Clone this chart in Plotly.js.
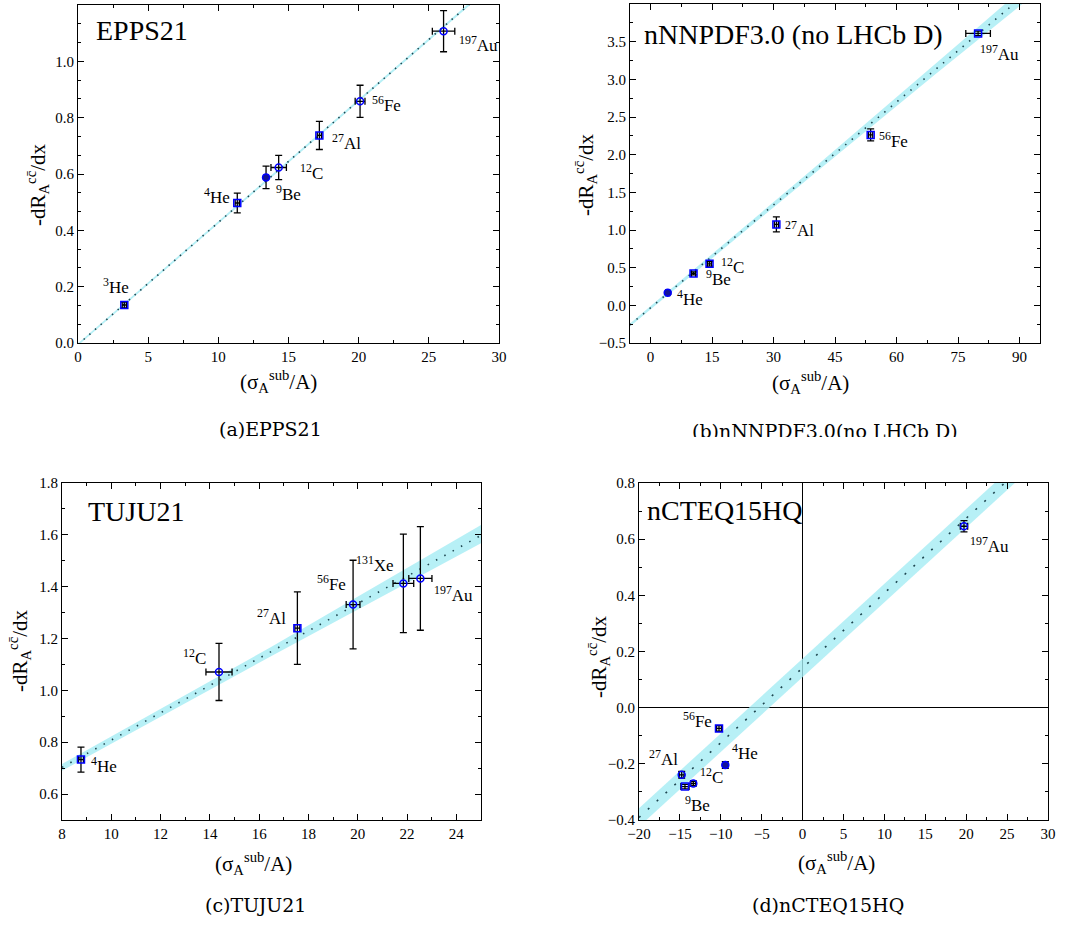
<!DOCTYPE html>
<html><head><meta charset="utf-8">
<script src="https://cdn.plot.ly/plotly-3.0.1.min.js"></script>
<style>html,body{margin:0;padding:0;background:#fff;}#chart{width:1076px;height:927px;}</style>
</head><body><div id="chart"></div>
<script>
// ---------------- DATA ----------------
// (a) EPPS21
const aMass = [3, 4, 9, 12, 27, 56, 197];
const aElem = ['He', 'He', 'Be', 'C', 'Al', 'Fe', 'Au'];
const aX    = [3.3, 11.35, 13.4, 14.3, 17.2, 20.1, 26.05];
const aY    = [0.135, 0.497, 0.588, 0.623, 0.737, 0.858, 1.107];
const aXerr = [0.15, 0.15, 0.1, 0.55, 0.15, 0.35, 0.8];
const aYerr = [0.010, 0.035, 0.040, 0.043, 0.050, 0.057, 0.073];
const aFitX = [0, 30];
const aFitY = [-0.005, 1.294];
const aBandLo = [-0.009, 1.289];
const aBandHi = [-0.001, 1.299];

// (b) nNNPDF3.0 (no LHCb D)
const bMass = [4, 9, 12, 27, 56, 197];
const bElem = ['He', 'Be', 'C', 'Al', 'Fe', 'Au'];
const bX    = [4.2, 10.5, 14.4, 30.7, 53.7, 79.9];
const bY    = [0.166, 0.423, 0.551, 1.074, 2.262, 3.61];
const bXerr = [0.5, 0.5, 0.5, 0.5, 0.5, 3.0];
const bYerr = [0.02, 0.02, 0.03, 0.10, 0.08, 0.03];
const bFitX = [-5, 95];
const bFitY = [-0.26, 4.29];
const bBandX  = [-5, 40, 70, 95];
const bBandLo = [-0.28, 1.75, 3.09, 4.19];
const bBandHi = [-0.24, 1.83, 3.23, 4.40];

// (c) TUJU21
const cMass = [4, 12, 27, 56, 131, 197];
const cElem = ['He', 'C', 'Al', 'Fe', 'Xe', 'Au'];
const cX    = [8.77, 14.37, 17.55, 19.81, 21.85, 22.54];
const cY    = [0.733, 1.071, 1.24, 1.331, 1.4125, 1.432];
const cXerr = [0.1, 0.53, 0.1, 0.28, 0.42, 0.47];
const cYerr = [0.048, 0.11, 0.14, 0.171, 0.19, 0.20];
const cFitX = [8, 25];
const cFitY = [0.703, 1.598];
const cBandX  = [8, 16.5, 25];
const cBandLo = [0.690, 1.133, 1.568];
const cBandHi = [0.716, 1.168, 1.638];

// (d) nCTEQ15HQ
const dMass = [4, 9, 12, 27, 56, 197];
const dElem = ['He', 'Be', 'C', 'Al', 'Fe', 'Au'];
const dX    = [-9.45, -14.38, -13.36, -14.78, -10.22, 19.73];
const dY    = [-0.204, -0.281, -0.270, -0.239, -0.074, 0.646];
const dXerr = [0.3, 0.5, 0.3, 0.3, 0.3, 0.45];
const dYerr = [0.012, 0.008, 0.008, 0.012, 0.010, 0.020];
const dFitX = [-20, 30];
const dFitY = [-0.391, 0.941];
const dBandLo = [-0.424, 0.908];
const dBandHi = [-0.358, 0.974];

const panelNames = ['EPPS21', 'nNNPDF3.0 (no LHCb D)', 'TUJU21', 'nCTEQ15HQ'];
const captions = ['(a)EPPS21', '(b)nNNPDF3.0(no LHCb D)', '(c)TUJU21', '(d)nCTEQ15HQ'];

// ---------------- STYLE / LAYOUT ----------------
const W = 1076, H = 927;
const px = v => v / W;
const py = v => 1 - v / H;
const SERIF = '"Liberation Serif", "Times New Roman", Times, serif';
const CAPFONT = '"DejaVu Serif", "Liberation Serif", serif';
const BAND = 'rgba(165,236,244,0.8)';
const FITCOL = 'rgb(30,70,80)';

// label placement: [xanchor, xshift, yshift]
const aLab = [['center', -8, 19], ['right', -5, 7], ['left', 8, -16], ['left', 19, -4], ['left', 11, -7], ['left', 10, -3], ['left', 13, -13]];
const bLab = [['left', 7, -5], ['left', 10, -5], ['left', 9, -2], ['left', 7, -5], ['left', 6, -5], ['left', 0, -20]];
const cLab = [['left', 8, -5], ['right', -11, 15], ['right', -9, 11], ['right', -5, 22], ['right', -7, 19], ['left', 12, -16]];
const dLab = [['left', 5, 13], ['left', -2, -17], ['left', 5, 7], ['right', -2, 17], ['right', -5, 8], ['left', 4, -19]];

const panels = [
  {xa: 'x', ya: 'y', X: aX, Y: aY, XE: aXerr, YE: aYerr, M: aMass, E: aElem, fx: aFitX, fy: aFitY, bx: aFitX, blo: aBandLo, bhi: aBandHi, lab: aLab,
   sym: ['square-open', 'square-open', 'circle', 'circle-open', 'square-open', 'circle-open', 'circle-open'], dash: '1.5px,6px'},
  {xa: 'x2', ya: 'y2', X: bX, Y: bY, XE: bXerr, YE: bYerr, M: bMass, E: bElem, fx: bFitX, fy: bFitY, bx: bBandX, blo: bBandLo, bhi: bBandHi, lab: bLab,
   sym: ['circle', 'square-open', 'square-open', 'square-open', 'square-open', 'square-open'], dash: '1.5px,7px'},
  {xa: 'x3', ya: 'y3', X: cX, Y: cY, XE: cXerr, YE: cYerr, M: cMass, E: cElem, fx: cFitX, fy: cFitY, bx: cBandX, blo: cBandLo, bhi: cBandHi, lab: cLab,
   sym: ['square-open', 'circle-open', 'square-open', 'circle-open', 'circle-open', 'circle-open'], dash: '1.5px,8px'},
  {xa: 'x4', ya: 'y4', X: dX, Y: dY, XE: dXerr, YE: dYerr, M: dMass, E: dElem, fx: dFitX, fy: dFitY, bx: dFitX, blo: dBandLo, bhi: dBandHi, lab: dLab,
   sym: ['circle', 'square-open', 'circle-open', 'circle-open', 'square-open', 'circle-open'], dash: '2px,10px'}
];

const traces = [];
const annotations = [];
panels.forEach(p => {
  traces.push({x: p.bx, y: p.blo, xaxis: p.xa, yaxis: p.ya, mode: 'lines', line: {width: 0, color: BAND}, hoverinfo: 'skip', showlegend: false});
  traces.push({x: p.bx, y: p.bhi, xaxis: p.xa, yaxis: p.ya, mode: 'lines', line: {width: 0, color: BAND}, fill: 'tonexty', fillcolor: BAND, hoverinfo: 'skip', showlegend: false});
  traces.push({x: p.fx, y: p.fy, xaxis: p.xa, yaxis: p.ya, mode: 'lines', line: {width: 1.6, color: FITCOL, dash: p.dash}, hoverinfo: 'skip', showlegend: false});
  traces.push({
    x: p.X, y: p.Y, xaxis: p.xa, yaxis: p.ya, mode: 'markers', showlegend: false,
    marker: {symbol: p.sym, size: 7, color: p.sym.map(s => s.indexOf('open') >= 0 ? 'blue' : 'rgb(20,20,150)'), line: {width: 1.5, color: 'blue'}},
    error_y: {type: 'data', array: p.YE, visible: true, color: 'black', thickness: 1.3, width: 3.5},
    error_x: {type: 'data', array: p.XE, visible: true, color: 'black', thickness: 1.3, width: 3.5}
  });
  p.X.forEach((xv, i) => {
    const l = p.lab[i];
    annotations.push({xref: p.xa, yref: p.ya, x: xv, y: p.Y[i], text: '<sup>' + p.M[i] + '</sup>' + p.E[i],
      showarrow: false, xanchor: l[0], yanchor: 'middle', xshift: l[1], yshift: l[2],
      font: {family: SERIF, size: 17, color: 'black'}});
  });
});

function axis(dom, range, dtick, mdtick, fmt, anchor, zl) {
  return {domain: dom, range: range, dtick: dtick, tick0: 0, ticks: 'inside', ticklen: 6, tickwidth: 1, tickcolor: 'black',
    showline: true, linecolor: 'black', linewidth: 1, mirror: 'ticks', showgrid: false,
    zeroline: zl, zerolinecolor: 'black', zerolinewidth: 1, tickformat: fmt, anchor: anchor, fixedrange: true,
    tickfont: {family: SERIF, size: 15, color: 'black'},
    minor: {ticks: 'inside', ticklen: 3, dtick: mdtick, tick0: 0, tickcolor: 'black', showgrid: false}};
}

const layout = {
  width: W, height: H, margin: {l: 0, r: 0, t: 0, b: 0}, paper_bgcolor: 'white', plot_bgcolor: 'white', showlegend: false,
  font: {family: SERIF, color: 'black'},
  xaxis:  axis([px(78), px(499)],  [0, 30],     5,   2.5,  'd',   'y',  false),
  yaxis:  axis([py(343), py(5)],   [0, 1.2],    0.2, 0.2 / 3, '.1f', 'x',  false),
  xaxis2: axis([px(630), px(1040)], [-5, 95],   15,  7.5,  'd',   'y2', false),
  yaxis2: axis([py(343), py(4)],   [-0.5, 4.0], 0.5, 0.25, '.1f', 'x2', false),
  xaxis3: axis([px(62), px(481)],  [8, 25],     2,   1,    'd',   'y3', false),
  yaxis3: axis([py(820), py(483)], [0.5, 1.8],  0.2, 0.1,  '.1f', 'x3', false),
  xaxis4: axis([px(639), px(1048)], [-20, 30],  5,   2.5,  'd',   'y4', true),
  yaxis4: axis([py(820), py(483)], [-0.4, 0.8], 0.2, 0.1,  '.1f', 'x4', true),
  annotations: annotations
};

const YT = '-dR<sub>A</sub><sup>cc\u0304</sup>/dx';
const XT = '(\u03c3<sub>A</sub><sup>sub</sup>/A)';
const titlePos = [
  {yx: 37, yy: 185, xx: 278, xy: 381, nx: 94, ny: 31},
  {yx: 585, yy: 175, xx: 810, xy: 383, nx: 642, ny: 34},
  {yx: 19, yy: 651, xx: 253, xy: 863, nx: 86, ny: 511},
  {yx: 598, yy: 657, xx: 836, xy: 862, nx: 645, ny: 510}
];
titlePos.forEach((t, i) => {
  layout.annotations.push({xref: 'paper', yref: 'paper', x: px(t.yx), y: py(t.yy), text: YT, textangle: -90, showarrow: false,
    xanchor: 'center', yanchor: 'middle', font: {family: SERIF, size: 21, color: 'black'}});
  layout.annotations.push({xref: 'paper', yref: 'paper', x: px(t.xx), y: py(t.xy), text: XT, showarrow: false,
    xanchor: 'center', yanchor: 'middle', font: {family: SERIF, size: 21, color: 'black'}});
  layout.annotations.push({xref: 'paper', yref: 'paper', x: px(t.nx), y: py(t.ny), text: panelNames[i], showarrow: false,
    xanchor: 'left', yanchor: 'middle', font: {family: SERIF, size: 28, color: 'black'}});
});
const capPos = [[270, 429, null], [825, 418, 17], [255, 905, null], [828, 905, null]];
capPos.forEach((c, i) => {
  const a = {xref: 'paper', yref: 'paper', x: px(c[0]), y: py(c[1]), text: captions[i], showarrow: false,
    xanchor: 'center', yanchor: 'middle', font: {family: CAPFONT, size: 19, color: 'black'}};
  if (c[2]) { a.yanchor = 'top'; a.height = c[2]; a.valign = 'top'; }
  layout.annotations.push(a);
});

Plotly.newPlot('chart', traces, layout, {staticPlot: true, displayModeBar: false});
</script></body></html>
